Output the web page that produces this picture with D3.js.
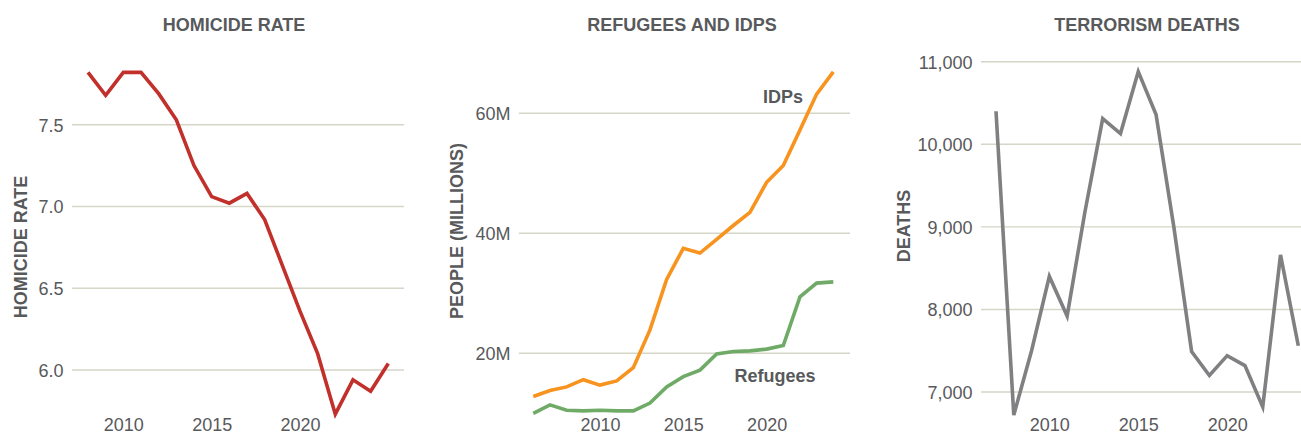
<!DOCTYPE html>
<html>
<head>
<meta charset="utf-8">
<script src="https://cdn.jsdelivr.net/npm/d3@7"></script>
<style>
  body { margin: 0; background: #fff; }
  text { font-family: "Liberation Sans", Arial, Helvetica, sans-serif; }
</style>
</head>
<body>
<div id="chart"></div>
<script>
// ---------- data ----------
const homicideYears = [2008, 2009, 2010, 2011, 2012, 2013, 2014, 2015, 2016, 2017, 2018, 2019, 2020, 2021, 2022, 2023, 2024, 2025];
const homicideRate = [7.82, 7.68, 7.82, 7.82, 7.69, 7.53, 7.25, 7.06, 7.02, 7.08, 6.92, 6.64, 6.36, 6.10, 5.73, 5.94, 5.87, 6.04];
const homicideTicks = [6.0, 6.5, 7.0, 7.5];

const displacedYears = [2006, 2007, 2008, 2009, 2010, 2011, 2012, 2013, 2014, 2015, 2016, 2017, 2018, 2019, 2020, 2021, 2022, 2023, 2024];
const idps = [12.8, 13.8, 14.4, 15.6, 14.7, 15.4, 17.6, 23.9, 32.3, 37.5, 36.7, 39.0, 41.3, 43.5, 48.5, 51.3, 57.2, 63.2, 66.9];
const refugees = [10.0, 11.4, 10.5, 10.4, 10.5, 10.4, 10.4, 11.7, 14.4, 16.1, 17.2, 19.9, 20.3, 20.4, 20.7, 21.3, 29.4, 31.7, 31.9];
const peopleTicks = [20, 40, 60];

const terrorYears = [2007, 2008, 2009, 2010, 2011, 2012, 2013, 2014, 2015, 2016, 2017, 2018, 2019, 2020, 2021, 2022, 2023, 2024];
const terrorDeaths = [10400, 6720, 7500, 8400, 7920, 9180, 10310, 10130, 10880, 10360, 9000, 7490, 7200, 7440, 7320, 6820, 8660, 7560];
const deathTicks = [7000, 8000, 9000, 10000, 11000];

const yearTicks = [2010, 2015, 2020];

// ---------- page ----------
let svgWidth = 1301;
let svgHeight = 436;

let svg = d3.select("#chart")
  .append("svg")
  .attr("width", svgWidth)
  .attr("height", svgHeight);

let textColor = "#58595b";
let gridColor = "#d5d5c8";

// draws one small-multiple panel
function drawPanel(p) {
  let g = svg.append("g");

  let xScale = d3.scaleLinear().domain(p.xDomain).range(p.xRange);
  let yScale = d3.scaleLinear().domain(p.yDomain).range(p.yRange);

  // gridlines
  g.selectAll("line.grid")
    .data(p.yTicks)
    .enter()
    .append("line")
    .attr("class", "grid")
    .attr("x1", p.gridX[0])
    .attr("x2", p.gridX[1])
    .attr("y1", d => yScale(d))
    .attr("y2", d => yScale(d))
    .attr("stroke", gridColor)
    .attr("stroke-width", 1.4);

  // y axis labels (no domain line, no ticks)
  let yAxis = d3.axisLeft(yScale)
    .tickValues(p.yTicks)
    .tickFormat(p.yFormat)
    .tickSize(0)
    .tickPadding(0);
  let ya = g.append("g")
    .attr("transform", "translate(" + p.yLabelX + ",0)")
    .call(yAxis);
  ya.select(".domain").remove();
  ya.selectAll("text")
    .attr("fill", textColor)
    .attr("font-size", "18px")
    .attr("dy", "0.36em")
    .style("font-family", "'Liberation Sans', Arial, sans-serif");

  // x axis labels - kept just inside the bottom edge
  let xAxis = d3.axisBottom(xScale)
    .tickValues(yearTicks)
    .tickFormat(d3.format("d"))
    .tickSize(0)
    .tickPadding(0);
  let xa = g.append("g")
    .attr("transform", "translate(0," + 418 + ")")
    .call(xAxis);
  xa.select(".domain").remove();
  xa.selectAll("text")
    .attr("fill", textColor)
    .attr("font-size", "18px")
    .attr("dy", "0.72em")
    .style("font-family", "'Liberation Sans', Arial, sans-serif");

  // lines
  p.series.forEach(function(s) {
    let pts = p.years.map((yr, i) => [yr, s.values[i]]);
    let line = d3.line()
      .x(d => xScale(d[0]))
      .y(d => yScale(d[1]));
    g.append("path")
      .datum(pts)
      .attr("d", line)
      .attr("fill", "none")
      .attr("stroke", s.color)
      .attr("stroke-width", 3.6);
  });

  // panel title
  g.append("text")
    .attr("x", p.titleX)
    .attr("y", 30.5)
    .attr("text-anchor", "middle")
    .attr("font-size", "18px")
    .attr("font-weight", "bold")
    .attr("fill", textColor)
    .text(p.title);

  // rotated axis title
  g.append("text")
    .attr("transform", "translate(" + p.axisTitlePos[0] + "," + p.axisTitlePos[1] + ")rotate(-90)")
    .attr("text-anchor", "middle")
    .attr("font-size", "18px")
    .attr("font-weight", "bold")
    .attr("fill", textColor)
    .text(p.axisTitle);

  return g;
}

// ========== Homicide rate ==========
drawPanel({
  title: "HOMICIDE RATE",
  titleX: 234,
  axisTitle: "HOMICIDE RATE",
  axisTitlePos: [26.5, 247],
  years: homicideYears,
  xDomain: [2008, 2025],
  xRange: [88, 388.3],
  yDomain: [6.0, 7.5],
  yRange: [370, 124.7],
  yTicks: homicideTicks,
  yFormat: d3.format(".1f"),
  yLabelX: 63.5,
  gridX: [72, 404],
  series: [{ values: homicideRate, color: "#c1302a" }]
});

// ========== Refugees and IDPs ==========
let refPanel = drawPanel({
  title: "REFUGEES AND IDPS",
  titleX: 682,
  axisTitle: "PEOPLE (MILLIONS)",
  axisTitlePos: [462.5, 231],
  years: displacedYears,
  xDomain: [2006, 2024],
  xRange: [533.3, 833.3],
  yDomain: [20, 60],
  yRange: [353.3, 113.3],
  yTicks: peopleTicks,
  yFormat: d => d + "M",
  yLabelX: 510.5,
  gridX: [519, 850],
  series: [
    { values: idps, color: "#f7931e" },
    { values: refugees, color: "#6fab67" }
  ]
});

// series labels
refPanel.append("text")
  .attr("x", 783)
  .attr("y", 103)
  .attr("text-anchor", "middle")
  .attr("font-size", "18px")
  .attr("font-weight", "bold")
  .attr("fill", textColor)
  .text("IDPs");
refPanel.append("text")
  .attr("x", 775)
  .attr("y", 382)
  .attr("text-anchor", "middle")
  .attr("font-size", "18px")
  .attr("font-weight", "bold")
  .attr("fill", textColor)
  .text("Refugees");

// ========== Terrorism deaths ==========
drawPanel({
  title: "TERRORISM DEATHS",
  titleX: 1147,
  axisTitle: "DEATHS",
  axisTitlePos: [909.5, 226],
  years: terrorYears,
  xDomain: [2007, 2024],
  xRange: [996, 1298.3],
  yDomain: [7000, 11000],
  yRange: [392, 61.7],
  yTicks: deathTicks,
  yFormat: d3.format(","),
  yLabelX: 972.5,
  gridX: [981, 1301],
  series: [{ values: terrorDeaths, color: "#808083" }]
});
</script>
</body>
</html>
